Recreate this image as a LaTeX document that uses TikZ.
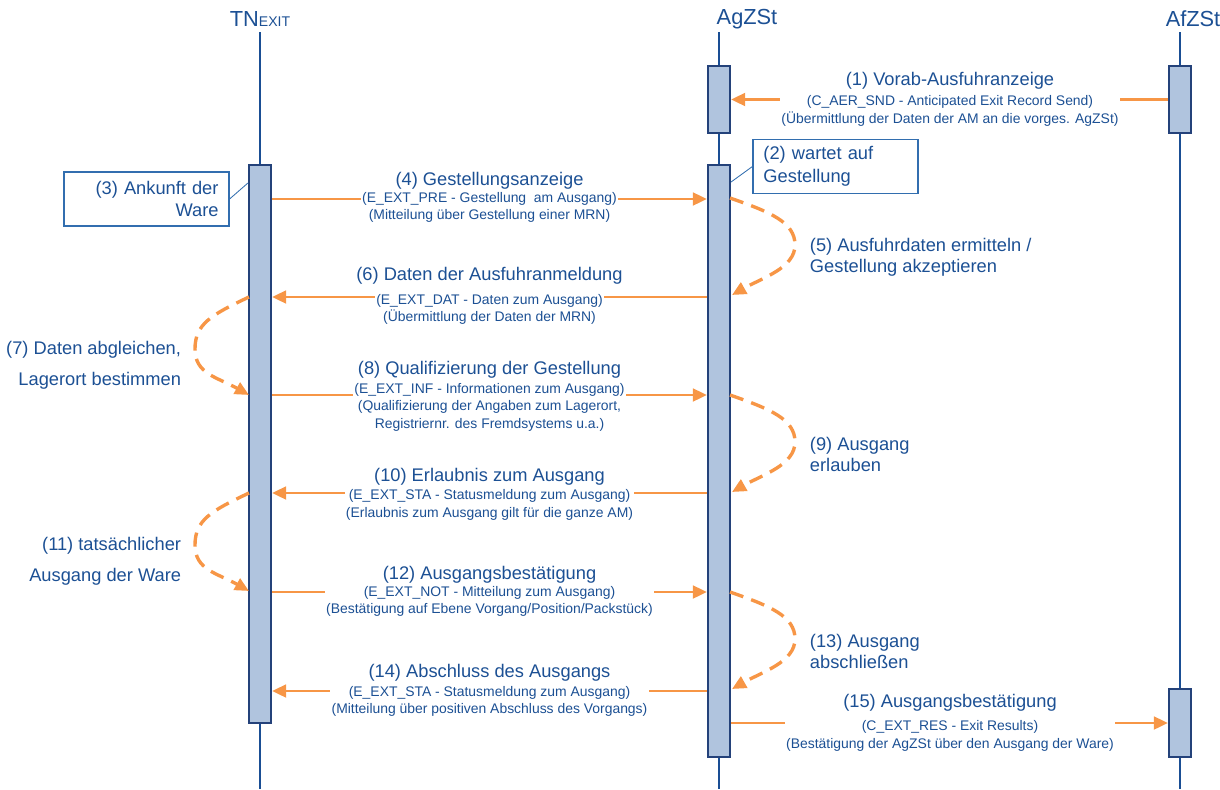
\documentclass[tikz,border=0pt]{standalone}
\usepackage{fontspec}
\setmainfont{Liberation Sans}
\usetikzlibrary{arrows.meta}

\definecolor{txtblue}{RGB}{28,80,148}
\definecolor{lineblue}{RGB}{26,78,148}
\definecolor{actblue}{RGB}{176,196,222}
\definecolor{actborder}{RGB}{36,66,122}
\definecolor{msgorange}{RGB}{247,150,70}
\definecolor{noteblue}{RGB}{50,110,175}

\begin{document}
\begin{tikzpicture}[
  x=0.025cm, y=-0.025cm,
  font=\fontsize{13}{15}\selectfont, text=txtblue,
  head/.style={font=\fontsize{15.5}{17}\selectfont},
  lifeline/.style={lineblue, line width=1.8pt},
  act/.style={draw=actborder, fill=actblue, line width=1.5pt, minimum width=0.55cm, inner sep=0pt},
  title/.style={font=\fontsize{13}{15}\selectfont},
  info/.style={font=\fontsize{9.9}{12.4}\selectfont, align=center, fill=white, inner xsep=1pt, inner ysep=0pt},
  msgarr/.style={msgorange, line width=2pt, -{Triangle[length=10pt, width=9pt]}},
  selfarr/.style={msgorange, line width=2.4pt, dash pattern=on 10pt off 6pt, -{Triangle[length=10pt, width=9pt]}},
  note/.style={draw=noteblue, line width=0.8pt, minimum width=4.125cm, minimum height=1.35cm, text width=3.6cm, font=\fontsize{13}{16.3}\selectfont},
  noteline/.style={noteblue, line width=0.6pt},
  loopnote/.style={font=\fontsize{13}{15}\selectfont, align=left, anchor=west},
  loopnoteL/.style={font=\fontsize{13}{22}\selectfont, align=right, anchor=east}
]
\useasboundingbox (0,0) rectangle (1220,789);

% Lifeline positions (in px of the 1220x789 canvas)
\def\tnx{260}
\def\agx{719}
\def\afx{1180}
\def\tnL{249}
\def\agR{730}
\def\midL{489.5}
\def\midR{950}

% Headers
\node[head] (hTN) at (\tnx,19) {TN{\fontsize{10}{11}\selectfont EXIT}};
\node[head] (hAg) at (747,19) {AgZSt};
\node[head] (hAf) at (1193,19) {AfZSt};

% Lifelines
\draw[lifeline] (\tnx,32) -- (\tnx,789);
\draw[lifeline] (\agx,32) -- (\agx,789);
\draw[lifeline] (\afx,32) -- (\afx,789);

% Activation boxes
\node[act, minimum height=1.675cm] (ag1) at (\agx,99.5) {};
\node[act, minimum height=1.675cm] (af1) at (\afx,99.5) {};
\node[act, minimum height=13.95cm] (tn) at (\tnx,444) {};
\node[act, minimum height=14.8cm] (ag2) at (\agx,461) {};
\node[act, minimum height=1.7cm] (af2) at (\afx,723) {};

% (1) Vorab-Ausfuhranzeige
\draw[msgarr] (af1.west) -- (ag1.east);
\node[title] (t1) at (\midR,81) {(1) Vorab-Ausfuhranzeige};
\node[info] (i1) at (\midR,111) {(C\_AER\_SND - Anticipated Exit Record Send)\\(Übermittlung der Daten der AM an die vorges. AgZSt)};

% (2) and (3) notes
\node[note, align=left] (n2) at (835.5,166.5) {(2) wartet auf\\Gestellung};
\draw[noteline] (n2.west) -- (ag2.east |- 0,182);
\node[note, align=right] (n3) at (146.5,199) {(3) Ankunft der\\Ware};
\draw[noteline] (n3.east) -- (tn.west |- 0,183);

% (4) Gestellungsanzeige
\draw[msgarr] (tn.east |- 0,199) -- (ag2.west |- 0,199);
\node[title] (t4) at (\midL,181) {(4) Gestellungsanzeige};
\node[info] (i4) at (\midL,207.5) {(E\_EXT\_PRE - Gestellung~ am Ausgang)\\(Mitteilung über Gestellung einer MRN)};

% (6) Daten der Ausfuhranmeldung
\draw[msgarr] (ag2.west |- 0,297) -- (tn.east |- 0,297);
\node[title] (t6) at (\midL,276) {(6) Daten der Ausfuhranmeldung};
\node[info] (i6) at (\midL,309.5) {(E\_EXT\_DAT - Daten zum Ausgang)\\(Übermittlung der Daten der MRN)};

% (8) Qualifizierung der Gestellung
\draw[msgarr] (tn.east |- 0,395) -- (ag2.west |- 0,395);
\node[title] (t8) at (\midL,370) {(8) Qualifizierung der Gestellung};
\node[info] (i8) at (\midL,407) {(E\_EXT\_INF - Informationen zum Ausgang)\\(Qualifizierung der Angaben zum Lagerort,\\Registriernr. des Fremdsystems u.a.)};

% (10) Erlaubnis zum Ausgang
\draw[msgarr] (ag2.west |- 0,493) -- (tn.east |- 0,493);
\node[title] (t10) at (\midL,477) {(10) Erlaubnis zum Ausgang};
\node[info] (i10) at (\midL,505) {(E\_EXT\_STA - Statusmeldung zum Ausgang)\\(Erlaubnis zum Ausgang gilt für die ganze AM)};

% (12) Ausgangsbestaetigung
\draw[msgarr] (tn.east |- 0,592) -- (ag2.west |- 0,592);
\node[title] (t12) at (\midL,575) {(12) Ausgangsbestätigung};
\node[info] (i12) at (\midL,601.5) {(E\_EXT\_NOT - Mitteilung zum Ausgang)\\(Bestätigung auf Ebene Vorgang/Position/Packstück)};

% (14) Abschluss des Ausgangs
\draw[msgarr] (ag2.west |- 0,691) -- (tn.east |- 0,691);
\node[title] (t14) at (\midL,673) {(14) Abschluss des Ausgangs};
\node[info] (i14) at (\midL,701.5) {(E\_EXT\_STA - Statusmeldung zum Ausgang)\\(Mitteilung über positiven Abschluss des Vorgangs)};

% (15) Ausgangsbestaetigung to AfZSt
\draw[msgarr] (ag2.east |- af2.west) -- (af2.west);
\node[title] (t15) at (\midR,703) {(15) Ausgangsbestätigung};
\node[info] (i15) at (\midR,736) {(C\_EXT\_RES - Exit Results)\\(Bestätigung der AgZSt über den Ausgang der Ware)};

% Self steps at AgZSt
\foreach \ys/\n/\txt in {198/5/{(5) Ausfuhrdaten ermitteln /\\Gestellung akzeptieren},
                         395/9/{(9) Ausgang\\erlauben},
                         592/13/{(13) Ausgang\\abschließen}}{
  \draw[selfarr] (\agR,\ys) .. controls +(40,14) and +(0,-23) .. (\agR+65,\ys+47)
                 .. controls +(0,23) and +(30,-17) .. (\agR+2,\ys+97);
  \node[loopnote] (l\n) at (805,\ys+59.5) {\txt};
}

% Self steps at TN
\foreach \ys/\n/\txt in {297/7/{(7) Daten abgleichen,\\Lagerort bestimmen},
                         493/11/{(11) tatsächlicher\\Ausgang der Ware}}{
  \draw[selfarr] (\tnL,\ys) .. controls +(-38,18) and +(0,-25) .. (\tnL-54,\ys+52)
                 .. controls +(0,25) and +(-32,-18) .. (\tnL,\ys+98);
  \node[loopnoteL] (l\n) at (186,\ys+68) {\txt};
}

\end{tikzpicture}
\end{document}
